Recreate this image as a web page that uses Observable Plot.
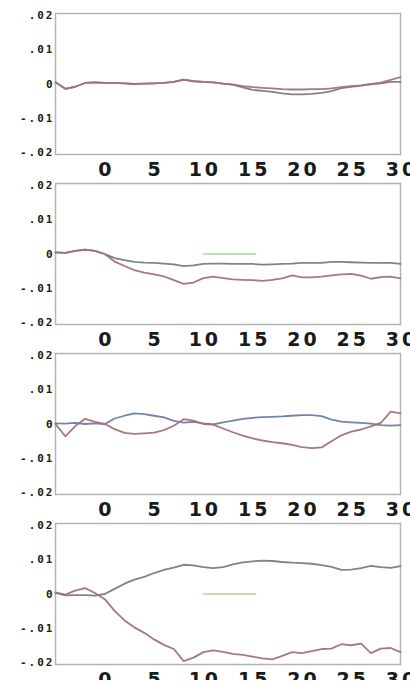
<!DOCTYPE html>
<html><head><meta charset="utf-8">
<script src="https://cdn.jsdelivr.net/npm/d3@7"></script>
<script src="https://cdn.jsdelivr.net/npm/@observablehq/plot@0.6"></script>
<style>
html,body{margin:0;padding:0;background:#fff;}
#chart svg{display:block;overflow:visible;background:transparent;}
#chart [aria-label="x-axis tick label"] text{letter-spacing:3px;}
#chart [aria-label="y-axis tick label"] text{letter-spacing:2px;}
</style></head><body><div id="chart"></div>
<script>
// x positions shared by every series
const xGrid = [-5,-4,-3,-2,-1,0,1,2,3,4,5,6,7,8,9,10,11,12,13,14,15,16,17,18,19,20,21,22,23,24,25,26,27,28,29,30];
const UNIT = 0.001; // series values below are in thousandths

const xTicks = [0,5,10,15,20,25,30];
const yTicks = [0.02, 0.01, 0, -0.01, -0.02];
const yTickLabels = [".02", ".01", "0", "-.01", "-.02"];

// panel 1
const p1Red  = [0.5,-1.4,-0.8,0.3,0.5,0.3,0.3,0.2,0.0,0.1,0.2,0.3,0.6,1.3,0.8,0.6,0.5,0.1,-0.2,-0.6,-0.9,-1.1,-1.3,-1.5,-1.6,-1.6,-1.5,-1.5,-1.3,-0.9,-0.6,-0.4,0.0,0.4,1.2,2.0];
const p1Gray = [0.5,-1.4,-0.8,0.3,0.5,0.3,0.3,0.2,0.0,0.1,0.2,0.3,0.6,1.3,0.8,0.6,0.5,0.1,-0.2,-1.0,-1.7,-2.0,-2.3,-2.7,-3.0,-3.0,-2.9,-2.6,-2.1,-1.2,-0.8,-0.5,-0.1,0.2,0.6,0.6];
// panel 2
const p2Gray = [0.5,0.3,0.9,1.3,0.9,0.0,-1.2,-1.8,-2.3,-2.5,-2.6,-2.8,-3.0,-3.5,-3.3,-2.9,-2.8,-2.8,-2.9,-2.9,-2.9,-3.1,-3.0,-2.9,-2.8,-2.6,-2.6,-2.6,-2.3,-2.3,-2.4,-2.5,-2.6,-2.6,-2.6,-2.9];
const p2Red  = [0.5,0.3,0.9,1.3,0.9,0.0,-2.2,-3.5,-4.7,-5.4,-5.9,-6.5,-7.6,-8.7,-8.3,-7.0,-6.6,-7.0,-7.4,-7.5,-7.6,-7.8,-7.5,-7.1,-6.2,-6.8,-6.8,-6.6,-6.2,-5.9,-5.8,-6.3,-7.2,-6.7,-6.6,-7.1];
// panel 3
const p3Blue = [0.2,0.1,0.3,0.0,0.2,0.0,1.6,2.4,3.1,2.9,2.4,1.9,0.9,0.4,0.6,0.2,-0.1,0.5,1.0,1.5,1.8,2.0,2.1,2.2,2.4,2.6,2.6,2.3,1.3,0.7,0.5,0.3,0.1,-0.3,-0.5,-0.3];
const p3Red  = [0.0,-3.6,-0.6,1.5,0.6,0.0,-1.5,-2.6,-2.9,-2.7,-2.5,-1.8,-0.5,1.4,1.0,0.0,-0.2,-1.3,-2.4,-3.4,-4.2,-4.8,-5.3,-5.6,-6.1,-6.7,-7.0,-6.8,-5.0,-3.3,-2.2,-1.6,-0.7,0.3,3.6,3.1];
// panel 4
const p4Gray = [0.3,-0.4,-0.3,-0.3,-0.5,0.0,1.5,3.0,4.2,5.0,6.1,7.0,7.7,8.5,8.3,7.8,7.5,7.8,8.6,9.2,9.5,9.7,9.6,9.3,9.1,9.0,8.8,8.4,7.9,7.0,7.1,7.5,8.2,7.8,7.6,8.1];
const p4Red  = [0.5,-0.2,1.0,1.7,0.3,-1.5,-4.9,-7.7,-9.7,-11.3,-13.2,-14.8,-16.0,-19.5,-18.5,-16.9,-16.4,-16.8,-17.4,-17.7,-18.2,-18.7,-19.0,-18.0,-16.9,-17.2,-16.6,-16.0,-15.9,-14.6,-14.9,-14.4,-17.2,-15.9,-15.7,-16.9];

// short green marker segment (panels 2 and 4)
const greenX = [10, 15.3];
const greenY = [0, 0];

const colors = {gray: "#7b7b7b", red: "#a3717a", blue: "#6a7ca8", green: "#a8d79b", frame: "#b4b4b4"};

const panels = [
  {series: [[p1Gray, colors.gray], [p1Red, colors.red]], green: false},
  {series: [[p2Gray, colors.gray], [p2Red, colors.red]], green: true},
  {series: [[p3Blue, colors.blue], [p3Red, colors.red]], green: false},
  {series: [[p4Gray, colors.gray], [p4Red, colors.red]], green: true}
];

const yLabel = new Map(yTicks.map((t, i) => [t, yTickLabels[i]]));
const toTable = vals => xGrid.map((x, i) => ({x, y: vals[i] * UNIT}));
const greenTable = greenX.map((x, i) => ({x, y: greenY[i]}));

const root = document.getElementById("chart");
for (const p of panels) {
  const marks = [Plot.frame({stroke: colors.frame, strokeWidth: 1.5})];
  if (p.green) marks.push(Plot.line(greenTable, {x: "x", y: "y", stroke: colors.green, strokeWidth: 1.5}));
  for (const [vals, c] of p.series) {
    marks.push(Plot.line(toTable(vals), {x: "x", y: "y", stroke: c, strokeWidth: 1.8, strokeOpacity: 0.95}));
  }
  marks.push(Plot.axisX({ticks: xTicks, tickSize: 0, tickPadding: 8, tickFormat: d => String(d), label: null,
    fontSize: 19, fontFamily: "DejaVu Sans", fontWeight: "bold", fill: "#1a1a1a", dx: 1.5}));
  marks.push(Plot.axisY({ticks: yTicks, tickSize: 0, tickPadding: 1, tickFormat: d => yLabel.get(d), label: null,
    fontSize: 11, fontFamily: "DejaVu Sans Mono", fontWeight: "bold", fill: "#1a1a1a"}));
  const svg = Plot.plot({
    width: 410, height: 170,
    marginTop: 13, marginBottom: 16, marginLeft: 55, marginRight: 10,
    x: {domain: [-5, 30], axis: null},
    y: {domain: [-0.0205, 0.0205], axis: null},
    style: {background: "transparent", overflow: "visible"},
    marks
  });
  root.appendChild(svg);
}
</script></body></html>
